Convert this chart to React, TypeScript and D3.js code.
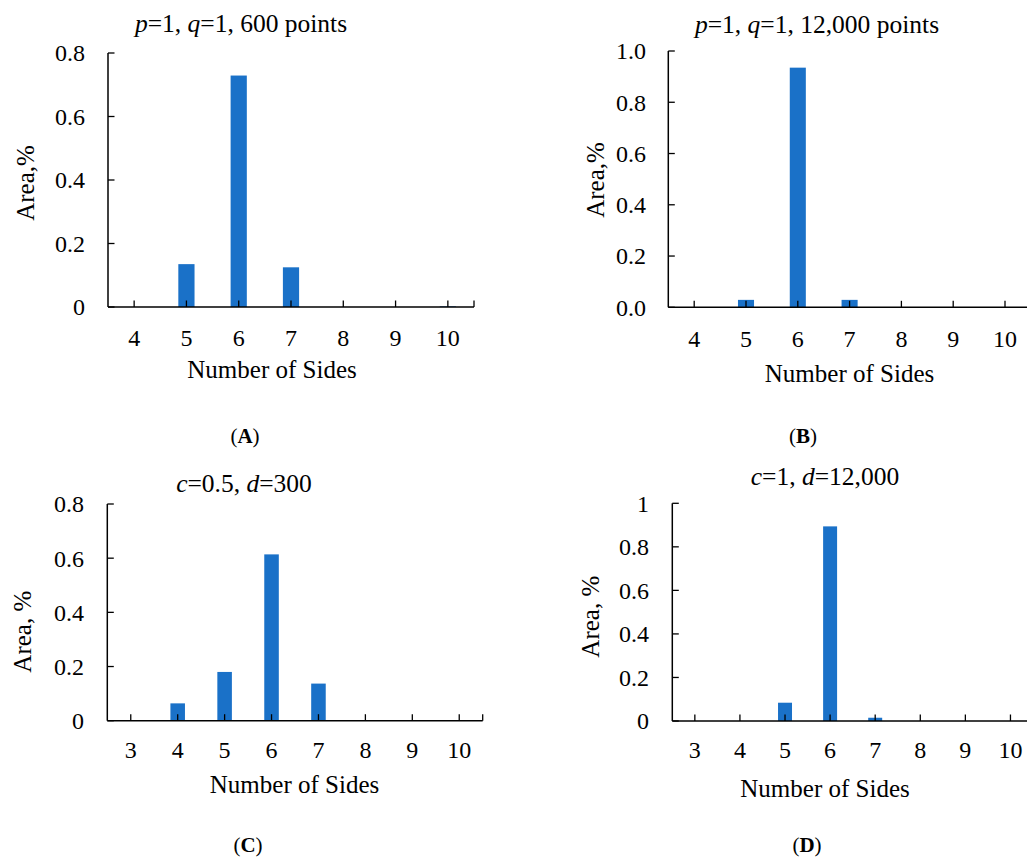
import React from "react";
import * as d3 from "d3";

// ---- data ----
const sidesAB = ["4", "5", "6", "7", "8", "9", "10"];
const sidesCD = ["3", "4", "5", "6", "7", "8", "9", "10"];
const areaA = [0, 0.135, 0.729, 0.125, 0, 0, 0.002];
const areaB = [0, 0.029, 0.935, 0.029, 0, 0, 0];
const areaC = [0, 0.064, 0.18, 0.614, 0.137, 0, 0, 0];
const areaD = [0, 0, 0.084, 0.894, 0.015, 0, 0, 0];
const ticksA = [0, 0.2, 0.4, 0.6, 0.8];
const ticksB = [0, 0.2, 0.4, 0.6, 0.8, 1.0];
const ticksC = [0, 0.2, 0.4, 0.6, 0.8];
const ticksD = [0, 0.2, 0.4, 0.6, 0.8, 1];
const fmtA = (v: number) => (v === 0 ? "0" : d3.format(".1f")(v));
const fmtB = (v: number) => d3.format(".1f")(v);
const fmtD = (v: number) => (v === 0 || v === 1 ? String(v) : d3.format(".1f")(v));

const FONT = '"Times New Roman", "Liberation Serif", serif';
const BAR = "#1a71c8";

type Layout = {
  left: number; right: number; top: number; bottom: number;
  ylx: number; yly: number; tickRight: number; xtickBase: number;
  xtx: number; xty: number; tx: number; ty: number; lx: number; ly: number;
};

function Panel(props: {
  cats: string[]; values: number[]; ticks: number[]; fmt: (v: number) => string;
  title: React.ReactNode; ylabel: string; letter: string; L: Layout;
}) {
  const { cats, values, ticks, fmt, title, ylabel, letter, L } = props;
  const x = d3.scaleBand<string>().domain(cats).range([L.left, L.right]).padding(0);
  const y = d3.scaleLinear().domain([0, d3.max(ticks) as number]).range([L.bottom, L.top]);
  const bw = x.bandwidth() * 0.31;
  const tl = 6.5;
  return (
    <g fontFamily={FONT} fill="#000">
      {values.map((v, i) => (
        <rect key={i} x={(x(cats[i]) as number) + x.bandwidth() / 2 - bw / 2} y={y(v)}
          width={bw} height={y(0) - y(v)} fill={BAR} />
      ))}
      <line x1={L.left} x2={L.left} y1={y(d3.max(ticks) as number)} y2={L.bottom} stroke="#000" strokeWidth={1.5} />
      <line x1={L.left} x2={L.right} y1={L.bottom} y2={L.bottom} stroke="#000" strokeWidth={1.5} />
      {ticks.map((t) => (
        <g key={t}>
          <line x1={L.left} x2={L.left + tl} y1={y(t)} y2={y(t)} stroke="#000" strokeWidth={1.3} />
          <text x={L.tickRight} y={y(t)} dy="0.35em" textAnchor="end" fontSize={24}>{fmt(t)}</text>
        </g>
      ))}
      {cats.map((c) => {
        const cx = (x(c) as number) + x.bandwidth() / 2;
        return (
          <g key={c}>
            <line x1={cx} x2={cx} y1={L.bottom} y2={L.bottom - tl} stroke="#000" strokeWidth={1.3} />
            <text x={cx} y={L.xtickBase} textAnchor="middle" fontSize={24}>{c}</text>
          </g>
        );
      })}
      <line x1={L.right} x2={L.right} y1={L.bottom} y2={L.bottom - tl} stroke="#000" strokeWidth={1.3} />
      <text x={L.xtx} y={L.xty} textAnchor="middle" fontSize={25}>Number of Sides</text>
      <text transform={`translate(${L.ylx},${L.yly}) rotate(-90)`} textAnchor="middle" dy="0.35em" fontSize={25}>{ylabel}</text>
      <text x={L.tx} y={L.ty} textAnchor="middle" fontSize={25.5}>{title}</text>
      <text x={L.lx} y={L.ly} textAnchor="middle" fontSize={21}>(<tspan fontWeight="bold">{letter}</tspan>)</text>
    </g>
  );
}

const LA: Layout = { left: 108, right: 474, top: 53, bottom: 307, ylx: 25, yly: 183, tickRight: 85, xtickBase: 346, xtx: 272, xty: 378, tx: 241, ty: 32, lx: 245, ly: 443 };
const LB: Layout = { left: 668.3, right: 1030.9, top: 51, bottom: 307.3, ylx: 595, yly: 180, tickRight: 646, xtickBase: 347, xtx: 849.5, xty: 381.7, tx: 817, ty: 33, lx: 803, ly: 443 };
const LC: Layout = { left: 107.3, right: 482.7, top: 504, bottom: 720.7, ylx: 22, yly: 631.7, tickRight: 84, xtickBase: 758, xtx: 294.5, xty: 793, tx: 244, ty: 491.7, lx: 248, ly: 852 };
const LD: Layout = { left: 672.3, right: 1033, top: 503.3, bottom: 721, ylx: 590, yly: 616.7, tickRight: 649, xtickBase: 758, xtx: 825, xty: 796.7, tx: 825, ty: 485, lx: 807, ly: 852 };

export default function App() {
  return (
    <svg width={1027} height={858} style={{ position: "absolute", left: 0, top: 0, background: "#fff" }}>
      <rect width={1027} height={858} fill="#fff" />
      <Panel cats={sidesAB} values={areaA} ticks={ticksA} fmt={fmtA} ylabel="Area,%" letter="A" L={LA}
        title={<><tspan fontStyle="italic">p</tspan>=1, <tspan fontStyle="italic">q</tspan>=1, 600 points</>} />
      <Panel cats={sidesAB} values={areaB} ticks={ticksB} fmt={fmtB} ylabel="Area,%" letter="B" L={LB}
        title={<><tspan fontStyle="italic">p</tspan>=1, <tspan fontStyle="italic">q</tspan>=1, 12,000 points</>} />
      <Panel cats={sidesCD} values={areaC} ticks={ticksC} fmt={fmtA} ylabel="Area, %" letter="C" L={LC}
        title={<><tspan fontStyle="italic">c</tspan>=0.5, <tspan fontStyle="italic">d</tspan>=300</>} />
      <Panel cats={sidesCD} values={areaD} ticks={ticksD} fmt={fmtD} ylabel="Area, %" letter="D" L={LD}
        title={<><tspan fontStyle="italic">c</tspan>=1, <tspan fontStyle="italic">d</tspan>=12,000</>} />
    </svg>
  );
}
